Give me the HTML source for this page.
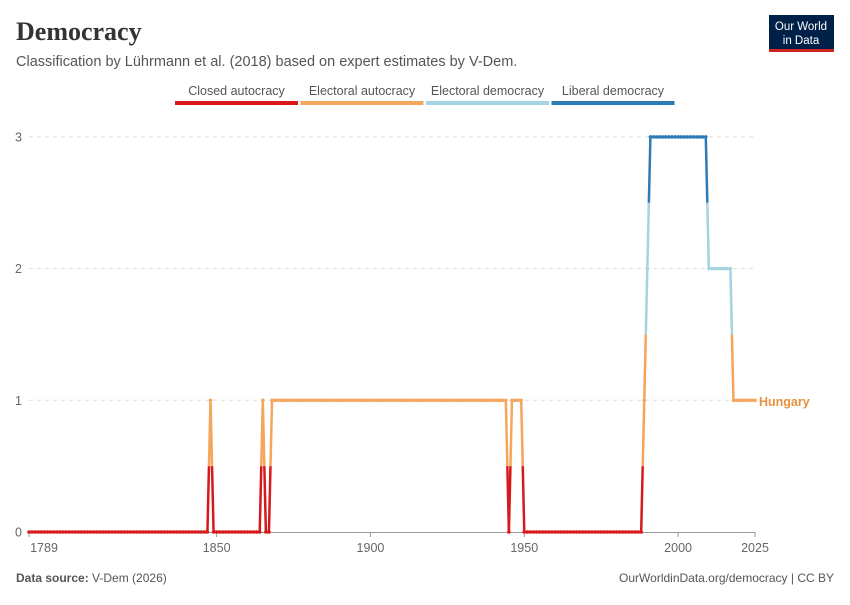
<!DOCTYPE html>
<html><head><meta charset="utf-8"><style>
body{margin:0;background:#fff;font-family:"Liberation Sans",sans-serif;}
svg text{font-family:"Liberation Sans",sans-serif;}
</style></head><body>
<svg id="c" width="850" height="600" xmlns="http://www.w3.org/2000/svg">
<text x="16" y="40" font-family="Liberation Serif" font-size="26" font-weight="bold" fill="#333" style="font-family:'Liberation Serif',serif">Democracy</text>
<text x="16" y="66" font-size="14.5" fill="#555">Classification by Lührmann et al. (2018) based on expert estimates by V-Dem.</text>
<g>
<rect x="769" y="15" width="65" height="36" fill="#002147"/>
<rect x="769" y="49" width="65" height="3" fill="#ce261e"/>
<text x="801" y="30" font-size="11.5" fill="#fff" text-anchor="middle">Our World</text>
<text x="801" y="44" font-size="11.5" fill="#fff" text-anchor="middle">in Data</text>
</g>
<g id="legend"></g>
<g id="grid"></g>
<g id="plot"></g>
<text x="759" y="406" font-size="12.5" font-weight="bold" fill="#e8903f">Hungary</text>
<text x="16" y="582" font-size="12" fill="#555"><tspan font-weight="bold">Data source:</tspan> V-Dem (2026)</text>
<text x="834" y="582" font-size="12" fill="#555" text-anchor="end">OurWorldinData.org/democracy | CC BY</text>
</svg>
<script>
const categories=["Closed autocracy","Electoral autocracy","Electoral democracy","Liberal democracy"];
const colors=["#d7191c","#f4a65d","#a6d3e0","#2c7bb6"];
const yTicks=[0,1,2,3];
const xTicks=[1789,1850,1900,1950,2000,2025];
// value segments: [startYear, endYear, value]
const runs=[[1789,1847,0],[1848,1848,1],[1849,1864,0],[1865,1865,1],[1866,1867,0],[1868,1944,1],[1945,1945,0],[1946,1949,1],[1950,1988,0],[1989,1989,1],[1990,1990,2],[1991,2009,3],[2010,2017,2],[2018,2025,1]];
const years=[],values=[];
runs.forEach(r=>{for(let y=r[0];y<=r[1];y++){years.push(y);values.push(r[2]);}});
const NS="http://www.w3.org/2000/svg";
const X=y=>29+(y-1789)*(755-29)/(2025-1789);
const Y=v=>532-v*131.7;
function mk(t,a,p){const e=document.createElementNS(NS,t);for(const k in a)e.setAttribute(k,a[k]);p.appendChild(e);return e;}
const leg=document.getElementById('legend'),grid=document.getElementById('grid'),plot=document.getElementById('plot');
categories.forEach((c,i)=>{
 const g=mk('g',{},leg);
 
 
 const x0=175+i*125.5;
 mk('rect',{x:x0,y:101,width:123,height:4,fill:colors[i]},g);
 const t=mk('text',{x:x0+61.5,y:95,'font-size':12.5,fill:'#555','text-anchor':'middle'},g);t.textContent=c;
});
yTicks.forEach(v=>{
 if(v>0){const l=mk('line',{x1:29,x2:755,y1:Y(v),y2:Y(v),stroke:'#ddd','stroke-dasharray':'4,4'},grid);
 
 }
 const t=mk('text',{x:22,y:Y(v)+4.5,'font-size':12.5,fill:'#666','text-anchor':'end'},grid);t.textContent=v;
 
 
});
const ax=mk('line',{x1:29,x2:755,y1:532.5,y2:532.5,stroke:'#999'},grid);


xTicks.forEach((yr,i)=>{
 mk('line',{x1:X(yr),x2:X(yr),y1:532,y2:537,stroke:'#999'},grid);
 const t=mk('text',{x:i==0?X(yr)+15:X(yr),y:552,'font-size':12.5,fill:'#666','text-anchor':'middle'},grid);t.textContent=yr;
 
 
});
const band=v=>Math.min(3,Math.max(0,Math.floor(v+0.5)));
for(let i=0;i<years.length-1;i++){
 const x1=X(years[i]),x2=X(years[i+1]),v1=values[i],v2=values[i+1];
 const cuts=[0];
 const lo=Math.min(v1,v2),hi=Math.max(v1,v2);
 for(let k=0.5;k<3;k++){if(k>lo&&k<hi)cuts.push((k-v1)/(v2-v1));}
 cuts.push(1);cuts.sort((a,b)=>a-b);
 for(let j=0;j<cuts.length-1;j++){
  const a=cuts[j],b=cuts[j+1],vm=v1+(v2-v1)*(a+b)/2;
  const s=mk('line',{x1:x1+(x2-x1)*a,y1:Y(v1+(v2-v1)*a),x2:x1+(x2-x1)*b,y2:Y(v1+(v2-v1)*b),stroke:colors[band(vm)],'stroke-width':2.5},plot);
  
  
 }
}
years.forEach((yr,i)=>{
 const c=mk('circle',{cx:X(yr),cy:Y(values[i]),r:1.8,fill:colors[values[i]]},plot);
 
 
});
</script>
</body></html>
